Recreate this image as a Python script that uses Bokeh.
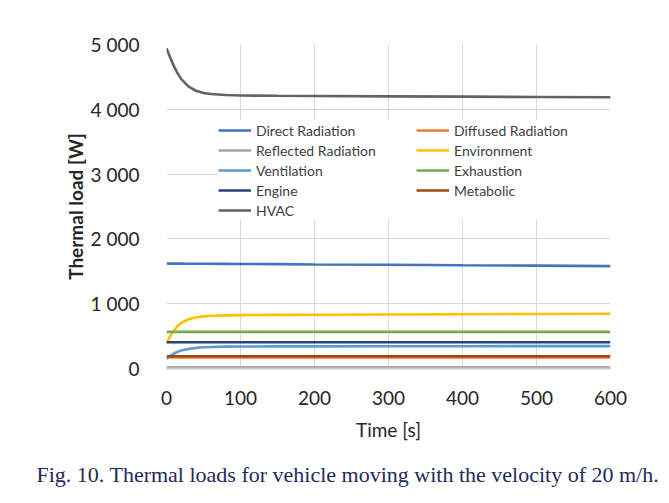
from bokeh.plotting import figure
from bokeh.models import ColumnDataSource, Legend, LegendItem, FixedTicker, Title, Range1d
from bokeh.embed import file_html
from bokeh.resources import INLINE

# ---- data ----
time_s = [0, 5, 10, 15, 20, 30, 40, 50, 60, 80, 100, 150, 200, 300, 400, 500, 600]

direct_radiation    = [1620, 1619, 1619, 1618, 1618, 1617, 1617, 1616, 1616, 1615, 1613, 1610, 1606, 1600, 1593, 1587, 1580]
diffused_radiation  = [170, 170, 170, 170, 170, 170, 170, 170, 170, 170, 170, 170, 170, 170, 170, 170, 170]
reflected_radiation = [20, 20, 20, 20, 20, 20, 20, 20, 20, 20, 20, 20, 20, 20, 20, 20, 20]
environment         = [390, 500, 590, 655, 705, 760, 790, 805, 813, 820, 824, 827, 830, 834, 838, 841, 845]
ventilation         = [150, 195, 232, 258, 278, 303, 318, 327, 332, 337, 339, 341, 342, 343, 344, 345, 346]
exhaustion          = [565, 565, 565, 565, 565, 565, 565, 565, 565, 565, 565, 565, 565, 565, 565, 565, 565]
engine              = [405, 405, 405, 405, 405, 405, 405, 405, 405, 405, 405, 405, 405, 405, 405, 405, 405]
metabolic           = [188, 188, 188, 188, 188, 188, 188, 188, 188, 188, 188, 188, 188, 188, 188, 188, 188]
hvac                = [4940, 4800, 4665, 4555, 4465, 4350, 4285, 4252, 4235, 4220, 4213, 4208, 4205, 4200, 4195, 4190, 4185]

series_names  = ["Direct Radiation", "Diffused Radiation", "Reflected Radiation", "Environment",
                 "Ventilation", "Exhaustion", "Engine", "Metabolic", "HVAC"]
series_values = [direct_radiation, diffused_radiation, reflected_radiation, environment,
                 ventilation, exhaustion, engine, metabolic, hvac]
series_colors = ["#4472C4", "#ED7D31", "#A5A5A5", "#FFC000",
                 "#5B9BD5", "#70AD47", "#264478", "#9E480E", "#636363"]

x_ticks = [0, 100, 200, 300, 400, 500, 600]
y_ticks = [0, 1000, 2000, 3000, 4000, 5000]
y_tick_labels = ["0", "1 000", "2 000", "3 000", "4 000", "5 000"]

caption = "Fig. 10. Thermal loads for vehicle moving with the velocity of 20 m/h."

FONT = "Lato"

p = figure(width=669, height=503, output_backend="svg", toolbar_location=None,
           x_range=Range1d(0, 600), y_range=Range1d(0, 5000),
           min_border_left=166, min_border_right=59, min_border_top=44, min_border_bottom=135)
p.outline_line_color = None
p.background_fill_color = "white"
p.border_fill_color = "white"

renderers = {}
for name, vals, col in zip(series_names, series_values, series_colors):
    src = ColumnDataSource(dict(t=time_s, v=vals))
    r = p.line("t", "v", source=src, line_color=col, line_width=2.6)
    renderers[name] = r

# axes
p.xaxis.ticker = FixedTicker(ticks=x_ticks)
p.yaxis.ticker = FixedTicker(ticks=y_ticks)
p.yaxis.major_label_overrides = {t: l for t, l in zip(y_ticks, y_tick_labels)}
for ax in (p.xaxis, p.yaxis):
    ax.major_tick_line_color = None
    ax.minor_tick_line_color = None
    ax.major_label_text_font = FONT
    ax.major_label_text_font_size = "19px"
    ax.major_label_text_color = "#262626"
    ax.axis_label_text_font = FONT
    ax.axis_label_text_color = "#262626"
    ax.axis_label_text_font_style = "normal"
p.yaxis.axis_line_color = None
p.xaxis.axis_line_color = "#c8c8c8"
p.xaxis.axis_line_width = 2
p.xaxis.major_label_standoff = 16
p.yaxis.major_label_standoff = 21
p.xaxis.axis_label = "Time [s]"
p.yaxis.axis_label = "Thermal load [W]"
p.xaxis.axis_label_text_font_size = "19px"
p.yaxis.axis_label_text_font_size = "19px"
p.yaxis.axis_label_text_font_style = "bold"
p.xaxis.axis_label_standoff = 10
p.yaxis.axis_label_standoff = 1

p.xgrid.grid_line_color = "#d9d9d9"
p.ygrid.grid_line_color = "#d9d9d9"
p.xgrid.grid_line_width = 1
p.ygrid.grid_line_width = 1

# legend (column-major, two columns)
col1 = ["Direct Radiation", "Reflected Radiation", "Ventilation", "Engine", "HVAC"]
col2 = ["Diffused Radiation", "Environment", "Exhaustion", "Metabolic"]
items = [LegendItem(label=n, renderers=[renderers[n]]) for n in col1 + col2]
legend = Legend(items=items, location=(52, 148), nrows=5, orientation="vertical",
                label_text_font=FONT, label_text_font_size="14px", label_text_color="#404040",
                glyph_width=33, glyph_height=20, label_height=20, label_width=160,
                label_standoff=5, spacing=0, padding=5, margin=0,
                background_fill_color="white", background_fill_alpha=1.0,
                border_line_color=None)
p.add_layout(legend, "center")

cap = Title(text=caption, align="left", offset=-130, standoff=32,
            text_font="Liberation Serif", text_font_size="22px",
            text_font_style="normal", text_color="#1f2a5e")
p.add_layout(cap, "below")

open("out.html", "w").write(file_html(p, INLINE))
